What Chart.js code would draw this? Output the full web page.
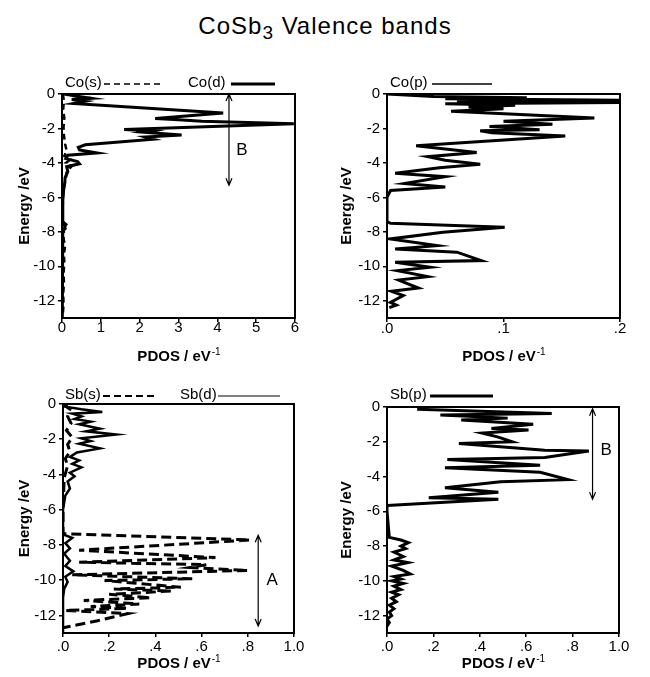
<!DOCTYPE html>
<html>
<head>
<meta charset="utf-8">
<script src="https://cdn.jsdelivr.net/npm/chart.js@4.4.0/dist/chart.umd.min.js"></script>
<style>
  body { margin: 0; background: #fff; font-family: "Liberation Sans", Arial, sans-serif; }
  #title { position: absolute; left: 0; top: 14px; width: 650px; text-align: center;
           font-size: 24px; line-height: 24px; letter-spacing: 1px; color: #000; }
  #title span { font-size: 19px; position: relative; top: 5px; }
  canvas { position: absolute; }
</style>
</head>
<body>
<div id="title">CoSb<span>3</span> Valence bands</div>
<canvas id="c1" width="325" height="320" style="left:0;top:50px"></canvas>
<canvas id="c2" width="325" height="320" style="left:325px;top:50px"></canvas>
<canvas id="c3" width="325" height="307" style="left:0;top:370px"></canvas>
<canvas id="c4" width="325" height="307" style="left:325px;top:370px"></canvas>
<script>
// tick values
const yTicks = [0, -2, -4, -6, -8, -10, -12];
const xTicksCoD = [0, 1, 2, 3, 4, 5, 6];
const xTicksCoP = [0, 0.1, 0.2];
const xTicksSb = [0, 0.2, 0.4, 0.6, 0.8, 1.0];

// Co(s) / Co(d)
const coS_E = [0, -0.4, -0.9, -1.4, -1.9, -2.4, -2.9, -3.3, -3.6, -3.8, -4.0, -4.2, -4.5, -4.9, -5.3, -5.8, -6.5, -7.4, -7.65, -7.9, -8.4, -8.8, -9.3, -9.8, -10.4, -11.0, -11.6, -12.2, -12.8];
const coS_pdos = [0.02, 0.05, 0.03, 0.06, 0.04, 0.05, 0.08, 0.12, 0.06, 0.22, 0.1, 0.25, 0.12, 0.1, 0.06, 0.03, 0.02, 0.02, 0.16, 0.05, 0.04, 0.08, 0.05, 0.06, 0.04, 0.05, 0.03, 0.04, 0.02];
const coD_E = [0, -0.12, -0.25, -0.32, -0.42, -0.55, -1.1, -1.42, -1.5, -1.58, -1.72, -2.06, -2.15, -2.22, -2.38, -2.5, -2.62, -2.95, -3.1, -3.25, -3.42, -3.55, -3.75, -3.92, -4.05, -4.22, -4.5, -4.85, -5.2, -5.6, -6.2, -7.5, -7.7, -8.0, -9, -10, -11, -12, -13];
const coD_pdos = [0.05, 0.35, 0.75, 0.25, 0.6, 0.3, 4.15, 2.4, 3.0, 3.6, 5.97, 1.6, 2.3, 2.1, 3.08, 2.15, 2.35, 0.6, 0.42, 0.45, 0.9, 0.15, 0.1, 0.4, 0.45, 0.12, 0.15, 0.08, 0.07, 0.04, 0.02, 0.02, 0.08, 0.02, 0.01, 0.01, 0.01, 0.01, 0];

// Co(p)
const coP_E = [0, -0.14, -0.22, -0.28, -0.36, -0.42, -0.5, -0.56, -0.66, -0.76, -0.86, -1.0, -1.4, -1.58, -1.75, -1.88, -2.07, -2.13, -2.25, -2.44, -3.0, -3.4, -3.64, -3.85, -4.08, -4.28, -4.6, -4.8, -5.2, -5.4, -5.6, -6.0, -7.4, -7.5, -7.73, -8.02, -8.41, -8.8, -8.99, -9.18, -9.67, -9.77, -10.06, -10.25, -10.6, -10.8, -11.26, -11.45, -11.7, -12.1, -12.25, -12.4];
const coP_pdos = [0, 0.04, 0.12, 0.05, 0.2, 0.06, 0.2, 0.05, 0.11, 0.07, 0.1, 0.055, 0.178, 0.10, 0.142, 0.088, 0.131, 0.08, 0.09, 0.153, 0.025, 0.077, 0.035, 0.05, 0.08, 0.045, 0.007, 0.05, 0.015, 0.05, 0.003, 0, 0, 0.003, 0.101, 0.048, 0.003, 0.043, 0.007, 0.06, 0.081, 0.007, 0.037, 0.009, 0.035, 0.01, 0.027, 0.004, 0.014, 0.003, 0.008, 0.002];

// Sb(s) / Sb(d)
const sbS_E = [0, -0.3, -0.7, -1.1, -1.5, -1.9, -2.3, -2.7, -3.1, -3.5, -4.2, -5.0, -6.0, -7.36, -7.72, -8.3, -8.72, -8.98, -9.12, -9.28, -9.45, -9.7, -9.92, -10.02, -10.4, -10.5, -10.62, -10.8, -11.0, -11.15, -11.35, -11.5, -11.6, -11.72, -11.9, -12.3, -12.7];
const sbS_pdos = [0, 0.03, 0.02, 0.035, 0.015, 0.04, 0.02, 0.03, 0.01, 0.02, 0.005, 0.003, 0, 0, 0.81, 0.07, 0.66, 0.07, 0.62, 0.55, 0.80, 0.04, 0.56, 0.18, 0.51, 0.22, 0.47, 0.2, 0.38, 0.09, 0.33, 0.12, 0.28, 0.01, 0.28, 0.15, 0];
const sbD_E = [0, -0.15, -0.3, -0.45, -0.55, -0.7, -0.85, -1.0, -1.15, -1.4, -1.55, -1.73, -1.95, -2.1, -2.25, -2.52, -2.75, -3.0, -3.2, -3.4, -3.6, -3.9, -4.1, -4.4, -4.8, -5.2, -5.6, -6.0, -7.4, -7.6, -7.9, -8.2, -8.5, -8.9, -9.2, -9.5, -9.8, -10.1, -10.5, -11, -13];
const sbD_pdos = [0.02, 0.01, 0.08, 0.17, 0.04, 0.08, 0.05, 0.12, 0.07, 0.16, 0.10, 0.23, 0.08, 0.12, 0.07, 0.16, 0.06, 0.03, 0.07, 0.04, 0.08, 0.03, 0.05, 0.02, 0.03, 0.01, 0.005, 0, 0, 0.04, 0.01, 0.03, 0.005, 0.03, 0.01, 0.045, 0.01, 0.02, 0.005, 0, 0];

// Sb(p)
const sbP_E = [-0.13, -0.37, -0.46, -0.64, -0.75, -0.99, -1.23, -1.33, -1.5, -1.73, -2.0, -2.1, -2.49, -2.53, -2.9, -3.02, -3.35, -3.5, -3.75, -4.18, -4.3, -4.64, -4.9, -5.22, -5.3, -5.66, -6.0, -7.5, -7.65, -7.8, -8.0, -8.15, -8.35, -8.6, -8.8, -8.95, -9.15, -9.4, -9.6, -9.75, -9.9, -10.0, -10.15, -10.3, -10.5, -10.65, -10.8, -11.0, -11.2, -11.4, -11.6, -11.8, -12.0, -12.2, -12.4, -12.6];
const sbP_pdos = [0.13, 0.71, 0.23, 0.52, 0.32, 0.63, 0.45, 0.61, 0.41, 0.48, 0.54, 0.31, 0.68, 0.87, 0.68, 0.26, 0.66, 0.25, 0.66, 0.78, 0.49, 0.25, 0.48, 0.18, 0.48, 0.0, 0.0, 0.01, 0.06, 0.092, 0.06, 0.08, 0.03, 0.07, 0.03, 0.09, 0.02, 0.07, 0.10, 0.03, 0.06, 0.02, 0.07, 0.03, 0.06, 0.02, 0.05, 0.02, 0.04, 0.01, 0.03, 0.01, 0.02, 0.0, 0.01, 0.0];

function pts(E, v) {
  return E.map((e, i) => ({ x: v[i], y: e }));
}

function line(E, v, width, dash) {
  return {
    data: pts(E, v),
    showLine: true,
    borderColor: '#000',
    borderWidth: width,
    borderDash: dash || [],
    pointRadius: 0,
    tension: 0,
    fill: false
  };
}

const intFmt = (v) => String(v);
const decFmt = (v) => v >= 1 ? v.toFixed(1) : '.' + Math.round(v * 10);

// frame, legend, axis titles, arrows
function decor(o) {
  return {
    id: 'decor',
    afterDraw(chart) {
      const ctx = chart.ctx, a = chart.chartArea;
      const xs = chart.scales.x, ys = chart.scales.y;
      ctx.save();
      ctx.strokeStyle = '#000';
      ctx.fillStyle = '#000';
      ctx.lineWidth = 2;
      ctx.strokeRect(a.left, a.top, a.right - a.left, a.bottom - a.top);

      // y title
      ctx.save();
      ctx.translate(o.yTitleX, (a.top + a.bottom) / 2);
      ctx.rotate(-Math.PI / 2);
      ctx.font = 'bold 15px "Liberation Sans", Arial';
      ctx.textAlign = 'center';
      ctx.textBaseline = 'middle';
      ctx.fillText('Energy /eV', 0, 0);
      ctx.restore();

      // x title with superscript
      ctx.font = 'bold 15px "Liberation Sans", Arial';
      const main = 'PDOS / eV';
      const w1 = ctx.measureText(main).width;
      ctx.font = '10px "Liberation Sans", Arial';
      const w2 = ctx.measureText('-1').width;
      let x0 = (a.left + a.right) / 2 - (w1 + w2) / 2;
      ctx.textAlign = 'left';
      ctx.textBaseline = 'alphabetic';
      ctx.font = 'bold 15px "Liberation Sans", Arial';
      ctx.fillText(main, x0, o.xTitleY);
      ctx.font = '10px "Liberation Sans", Arial';
      ctx.fillText('-1', x0 + w1 + 1, o.xTitleY - 6);

      // legend
      ctx.font = '15px "Liberation Sans", Arial';
      ctx.textBaseline = 'middle';
      o.legend.forEach(it => {
        ctx.fillText(it.text, it.x, o.legendY);
        ctx.beginPath();
        ctx.lineWidth = it.w;
        ctx.setLineDash(it.dash || []);
        ctx.moveTo(it.x1, o.legendY + 1);
        ctx.lineTo(it.x2, o.legendY + 1);
        ctx.stroke();
      });
      ctx.setLineDash([]);

      // arrows
      (o.arrows || []).forEach(ar => {
        const px = xs.getPixelForValue(ar.x);
        const y1 = ys.getPixelForValue(ar.e1);
        const y2 = ys.getPixelForValue(ar.e2);
        ctx.lineWidth = 1.2;
        ctx.beginPath();
        ctx.moveTo(px, y1);
        ctx.lineTo(px, y2);
        ctx.moveTo(px - 3, y1 + 7); ctx.lineTo(px, y1); ctx.lineTo(px + 3, y1 + 7);
        ctx.moveTo(px - 3, y2 - 7); ctx.lineTo(px, y2); ctx.lineTo(px + 3, y2 - 7);
        ctx.stroke();
        ctx.font = '17px "Liberation Sans", Arial';
        ctx.textAlign = 'center';
        ctx.textBaseline = 'middle';
        ctx.fillText(ar.label, xs.getPixelForValue(ar.lx), ys.getPixelForValue(ar.le));
        ctx.textAlign = 'left';
      });
      ctx.restore();
    }
  };
}

function panel(id, o) {
  const cv = document.getElementById(id);
  const W = cv.width, H = cv.height;
  const tickStyle = { color: '#000', font: { size: 15, family: '"Liberation Sans", Arial' } };
  return new Chart(cv, {
    type: 'scatter',
    data: { datasets: o.datasets },
    options: {
      responsive: false,
      animation: false,
      layout: { padding: { left: 0, top: o.area[1], right: W - o.area[2], bottom: 0 } },
      plugins: { legend: { display: false }, tooltip: { enabled: false } },
      scales: {
        x: {
          type: 'linear', min: 0, max: o.xMax,
          afterBuildTicks: (ax) => { ax.ticks = o.xTicks.map(v => ({ value: v })); },
          afterFit: (s) => { s.height = H - o.area[3]; },
          ticks: Object.assign({ callback: o.fmt, padding: o.xPad, maxRotation: 0, autoSkip: false }, tickStyle),
          grid: { display: true, drawOnChartArea: false, tickLength: 4, color: '#000', lineWidth: 1.5 },
          border: { display: true, color: '#000', width: 2 }
        },
        y: {
          type: 'linear', min: -13, max: 0,
          afterBuildTicks: (ax) => { ax.ticks = yTicks.map(v => ({ value: v })); },
          afterFit: (s) => { s.width = o.area[0]; },
          ticks: Object.assign({ padding: 3, autoSkip: false }, tickStyle),
          grid: { display: true, drawOnChartArea: false, tickLength: 4, color: '#000', lineWidth: 1.5 },
          border: { display: true, color: '#000', width: 2 }
        }
      }
    },
    plugins: [decor(o)]
  });
}

panel('c1', {
  area: [62, 44, 295, 268], xMax: 6, xTicks: xTicksCoD, fmt: intFmt, xPad: -3,
  yTitleX: 25, xTitleY: 311, legendY: 33,
  datasets: [line(coS_E, coS_pdos, 2.5, [6, 4]), line(coD_E, coD_pdos, 3)],
  legend: [
    { text: 'Co(s)', x: 65, x1: 104, x2: 160, w: 1.5, dash: [6, 4] },
    { text: 'Co(d)', x: 188, x1: 231, x2: 275, w: 3 }
  ],
  arrows: [{ x: 4.3, e1: 0, e2: -5.3, label: 'B', lx: 4.63, le: -3.25 }]
});

panel('c2', {
  area: [62, 44, 295, 268], xMax: 0.2, xTicks: xTicksCoP, fmt: decFmt, xPad: -2,
  yTitleX: 22, xTitleY: 311, legendY: 33,
  datasets: [line(coP_E, coP_pdos, 3)],
  legend: [{ text: 'Co(p)', x: 65, x1: 107, x2: 167, w: 1.5 }]
});

panel('c3', {
  area: [63, 34, 294, 263], xMax: 1.0, xTicks: xTicksSb, fmt: decFmt, xPad: 1,
  yTitleX: 25, xTitleY: 298, legendY: 25,
  datasets: [line(sbS_E, sbS_pdos, 3, [10, 5]), line(sbD_E, sbD_pdos, 2.5)],
  legend: [
    { text: 'Sb(s)', x: 65, x1: 103, x2: 157, w: 2, dash: [7, 4] },
    { text: 'Sb(d)', x: 180, x1: 218, x2: 280, w: 1.2 }
  ],
  arrows: [{ x: 0.845, e1: -7.45, e2: -12.6, label: 'A', lx: 0.905, le: -10.0 }]
});

panel('c4', {
  area: [62, 37, 294, 263], xMax: 1.0, xTicks: xTicksSb, fmt: decFmt, xPad: 1,
  yTitleX: 22, xTitleY: 298, legendY: 25,
  datasets: [line(sbP_E, sbP_pdos, 3)],
  legend: [{ text: 'Sb(p)', x: 65, x1: 105, x2: 168, w: 3 }],
  arrows: [{ x: 0.886, e1: -0.1, e2: -5.3, label: 'B', lx: 0.945, le: -2.5 }]
});
</script>
</body>
</html>
